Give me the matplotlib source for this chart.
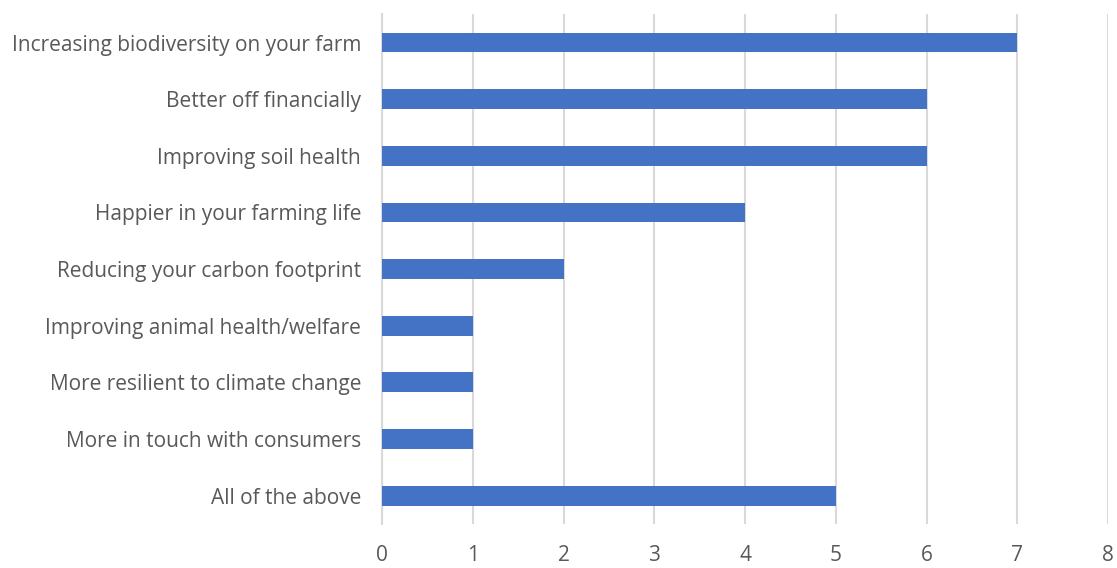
import matplotlib.pyplot as plt

categories = [
    "Increasing biodiversity on your farm",
    "Better off financially",
    "Improving soil health",
    "Happier in your farming life",
    "Reducing your carbon footprint",
    "Improving animal health/welfare",
    "More resilient to climate change",
    "More in touch with consumers",
    "All of the above",
]
counts = [7, 6, 6, 4, 2, 1, 1, 1, 5]
x_ticks = [0, 1, 2, 3, 4, 5, 6, 7, 8]

bar_color = "#4472C4"
text_color = "#595959"
grid_color = "#D9D9D9"

plt.rcParams["font.family"] = ["Open Sans", "DejaVu Sans"]

fig = plt.figure(figsize=(11.17, 5.68), dpi=100)
ax = fig.add_axes([0.342, 0.0775, 0.650, 0.8975])

y = list(range(len(categories)))
ax.barh(y, counts, height=0.35, color=bar_color, zorder=3)

ax.set_ylim(len(categories) - 0.5, -0.5)
ax.set_xlim(0, 8)
ax.set_xticks(x_ticks)
ax.set_yticks(y)
ax.set_yticklabels(categories)

ax.grid(axis="x", color=grid_color, linewidth=1.5, zorder=0)
for side in ["top", "right", "bottom"]:
    ax.spines[side].set_visible(False)
ax.spines["left"].set_color(grid_color)
ax.spines["left"].set_linewidth(1.5)

ax.tick_params(axis="both", length=0, labelsize=15, colors=text_color)
ax.tick_params(axis="y", pad=15)
ax.tick_params(axis="x", pad=15)

fig.savefig("out.png", dpi=100)
